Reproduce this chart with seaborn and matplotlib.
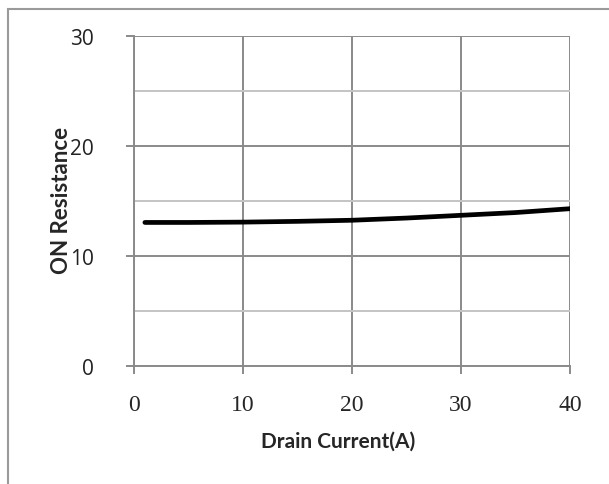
import numpy as np
import pandas as pd
import seaborn as sns
import matplotlib.pyplot as plt
from matplotlib.patches import Rectangle

# values
drain_current = [1, 5, 10, 15, 20, 25, 30, 35, 40]
on_resistance = [13.05, 13.05, 13.08, 13.15, 13.25, 13.45, 13.7, 13.95, 14.3]
x_ticks = [0, 10, 20, 30, 40]
y_ticks = [0, 10, 20, 30]

df = pd.DataFrame({'Drain Current(A)': drain_current, 'ON Resistance': on_resistance})

sns.set_style('white')
fig = plt.figure(figsize=(6.09, 4.85), dpi=100)
ax = fig.add_axes([0.22, 0.2433, 0.716, 0.6804])

# outer chart border
fig.patches.append(Rectangle((0.013, -0.1), 1.2, 1.08, transform=fig.transFigure,
                             fill=False, edgecolor='#9a9a9a', lw=1.5))

sns.lineplot(data=df, x='Drain Current(A)', y='ON Resistance', color='black', lw=3.4, ax=ax)

ax.set_xlim(0, 40)
ax.set_ylim(0, 30)
ax.set_xticks(x_ticks)
ax.set_yticks(y_ticks)
ax.set_yticks([5, 15, 25], minor=True)

ax.grid(True, which='major', color='#8a8a8a', lw=1.4)
ax.grid(True, which='minor', axis='y', color='#c4c4c4', lw=1.4)
for s in ['top', 'right']:
    ax.spines[s].set_visible(False)
for s in ['left', 'bottom']:
    ax.spines[s].set_color('#8a8a8a')
    ax.spines[s].set_linewidth(1.4)

# seaborn's white style switches the tick marks off
ax.tick_params(axis='both', which='major', bottom=True, left=True, direction='out',
               length=6, width=1.4, color='#8a8a8a')
ax.tick_params(axis='y', which='minor', left=False, length=0)
ax.tick_params(axis='x', pad=14)
ax.tick_params(axis='y', pad=23)

for t in ax.get_xticklabels():
    t.set_fontfamily('Liberation Serif')
    t.set_fontsize(17)
for t in ax.get_yticklabels():
    t.set_fontfamily('Open Sans')
    t.set_fontsize(15)
    t.set_color('#222222')

ax.set_xlabel('Drain Current(A)', fontfamily='Lato', fontweight='bold', fontsize=15)
ax.set_ylabel('ON Resistance', fontfamily='Lato', fontweight='bold', fontsize=16)
ax.xaxis.set_label_coords(0.468, -0.195)
ax.yaxis.set_label_coords(-0.143, 0.506)

fig.savefig('out.png', dpi=100)
